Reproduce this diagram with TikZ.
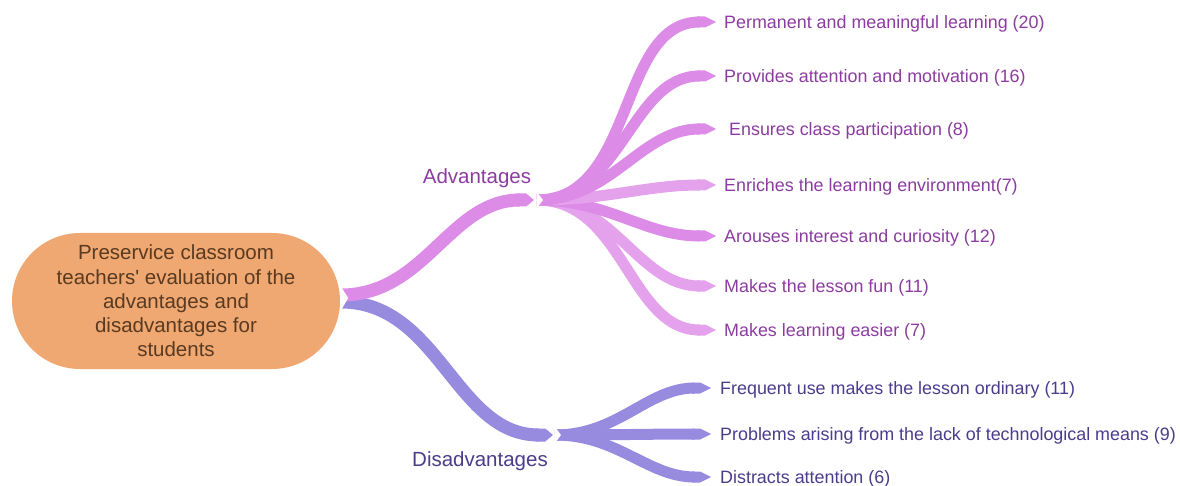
\documentclass[tikz,border=0pt]{standalone}
\usepackage{fontspec}
\setmainfont{Liberation Sans}
\usetikzlibrary{arrows.meta}

\definecolor{rootfill}{HTML}{EFA872}
\definecolor{roottext}{HTML}{5A3A20}
\definecolor{advdark}{HTML}{DC8BE6}
\definecolor{advlight}{HTML}{E4A2EC}
\definecolor{disline}{HTML}{978BE0}
\definecolor{advtext}{HTML}{8C3CA0}
\definecolor{distext}{HTML}{4B3C8C}

\begin{document}
\begin{tikzpicture}[x=1pt,y=-1pt]
\tikzstyle{every node}+=[inner sep=0pt]
\tikzstyle{root}=[fill=rootfill, text=roottext, minimum width=328pt, minimum height=136pt,
  rounded corners=68pt, align=center, font=\fontsize{20.5}{24.3}\selectfont]
\tikzstyle{advleaf}=[anchor=west, text=advtext, font=\fontsize{17.9}{21}\selectfont]
\tikzstyle{disleaf}=[anchor=west, text=distext, font=\fontsize{17.9}{21}\selectfont]
\tikzstyle{branchlabel}=[font=\fontsize{20.5}{24}\selectfont]
\tikzstyle{trunk}=[line width=13pt, -{Triangle Cap[length=+0pt 0.6]}]
\tikzstyle{leafline}=[line width=11pt, -{Triangle Cap[length=+0pt 1.0]}]
\useasboundingbox (0,0) rectangle (1180,486);
\node [root] (root) at (176,301) {Preservice classroom\\teachers\textquotesingle{} evaluation of the\\advantages and\\disadvantages for\\students};
\coordinate (advhub) at (537,200);
\coordinate (dishub) at (555,435);
\node [branchlabel, text=advtext] (adv) at (477,178) {Advantages};
\node [branchlabel, text=distext] (dis) at (480,461) {Disadvantages};
\node [advleaf] (a1) at (724,24) {Permanent and meaningful learning (20)};
\node [advleaf] (a2) at (724,78) {Provides attention and motivation (16)};
\node [advleaf] (a3) at (724,131) {\ Ensures class participation (8)};
\node [advleaf] (a4) at (724,187) {Enriches the learning environment(7)};
\node [advleaf] (a5) at (724,238) {Arouses interest and curiosity (12)};
\node [advleaf] (a6) at (724,288) {Makes the lesson fun (11)};
\node [advleaf] (a7) at (724,332) {Makes learning easier (7)};
\node [disleaf] (d1) at (720,390) {Frequent use makes the lesson ordinary (11)};
\node [disleaf] (d2) at (720,436) {Problems arising from the lack of technological means (9)};
\node [disleaf] (d3) at (720,479) {Distracts attention (6)};
% main branches
\draw [trunk, disline] ([xshift=1pt,yshift=-1pt]root.east) to[out=0,in=180] ([xshift=-2pt]dishub);
\draw [trunk, advdark] ([xshift=1pt,yshift=6pt]root.east) to[out=0,in=180] ([xshift=-3pt]advhub);
\fill [white] ([xshift=1pt,yshift=14pt]root.east) -- ([xshift=8pt,yshift=3pt]root.east) -- ([xshift=1pt,yshift=-9pt]root.east) -- cycle;
% advantages
\draw [leafline, advlight] (advhub) to[out=0,in=180] ([xshift=-8pt,yshift=2pt]a7.west);
\draw [leafline, advlight] (advhub) to[out=0,in=180] ([xshift=-8pt,yshift=2pt]a6.west);
\draw [leafline, advdark] (advhub) to[out=0,in=180] ([xshift=-8pt,yshift=2pt]a5.west);
\draw [leafline, advlight] (advhub) to[out=0,in=180] ([xshift=-8pt,yshift=2pt]a4.west);
\draw [leafline, advdark] (advhub) to[out=0,in=180] ([xshift=-8pt,yshift=2pt]a3.west);
\draw [leafline, advdark] (advhub) to[out=0,in=180] ([xshift=-8pt,yshift=2pt]a2.west);
\draw [leafline, advdark] (advhub) to[out=0,in=180] ([xshift=-8pt,yshift=2pt]a1.west);
\fill [white] ([yshift=8pt]advhub) -- ([xshift=6pt]advhub) -- ([yshift=-8pt]advhub) -- cycle;
% disadvantages
\draw [leafline, disline] (dishub) to[out=0,in=180] ([xshift=-9pt,yshift=2pt]d1.west);
\draw [leafline, disline] (dishub) to[out=0,in=180] ([xshift=-9pt,yshift=2pt]d2.west);
\draw [leafline, disline] (dishub) to[out=0,in=180] ([xshift=-9pt,yshift=2pt]d3.west);
\fill [white] ([yshift=8pt]dishub) -- ([xshift=6pt]dishub) -- ([yshift=-8pt]dishub) -- cycle;
\end{tikzpicture}
\end{document}
